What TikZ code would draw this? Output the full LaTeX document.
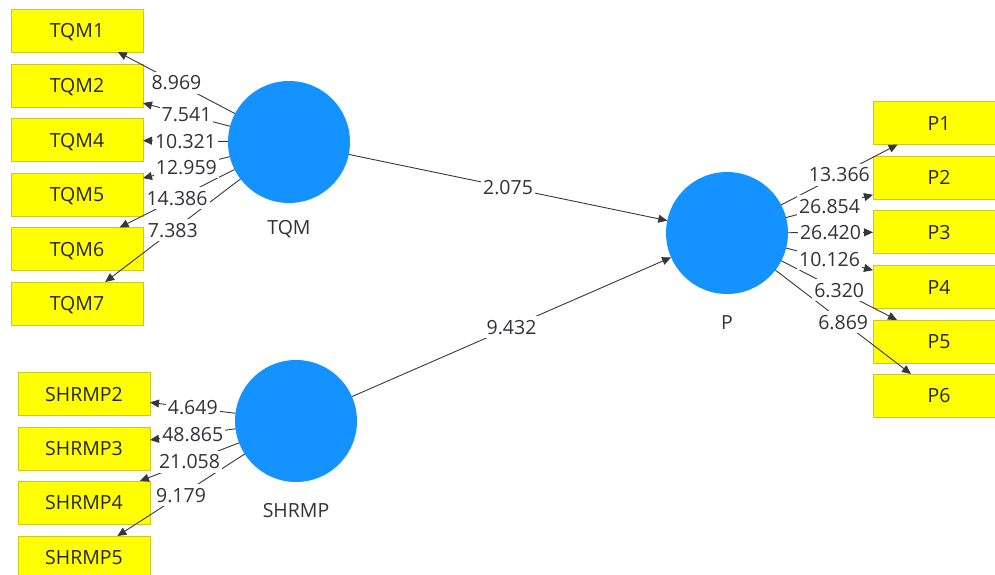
\documentclass[tikz,border=0pt]{standalone}
\usepackage{fontspec}
\setmainfont{Open Sans}
\usetikzlibrary{arrows.meta}
\definecolor{lvblue}{RGB}{20,146,255}
\definecolor{mvyellow}{RGB}{255,255,0}
\definecolor{mvborder}{RGB}{200,200,40}
\definecolor{edgegray}{RGB}{55,55,55}
\definecolor{txtgray}{RGB}{50,50,60}
\begin{document}
\begin{tikzpicture}[x=1pt,y=-1pt,
  latent/.style={circle,fill=lvblue,minimum size=122pt,inner sep=0pt,outer sep=0pt},
  manifest/.style={rectangle,fill=mvyellow,draw=mvborder,line width=0.6pt,minimum width=132pt,minimum height=43pt,inner sep=0pt,outer sep=0pt,text height=14pt,text depth=0pt,font=\fontsize{19.5}{22}\selectfont,text=black!85},
  lvlabel/.style={font=\fontsize{19.5}{22}\selectfont,text=txtgray},
  edge/.style={draw=edgegray,line width=0.9pt,-{Triangle[length=9pt,width=8pt]}},
  coef/.style={fill=white,inner xsep=2pt,inner ysep=4pt,text height=14pt,text depth=0pt,font=\fontsize{19.5}{22}\selectfont,text=txtgray}]
\useasboundingbox (0,0) rectangle (995,575);
% latent variables
\node[latent] (TQM) at (289,142) {};
\node[latent] (SHRMP) at (296,421) {};
\node[latent] (P) at (727,233) {};
\node[lvlabel] (TQMl) at (289,229) {TQM};
\node[lvlabel] (SHRMPl) at (296,511) {SHRMP};
\node[lvlabel] (Pl) at (727,323) {P};
% indicators
\node[manifest] (TQM1) at (77,30.5) {TQM1};
\node[manifest] (TQM2) at (77,85.5) {TQM2};
\node[manifest] (TQM4) at (77,140) {TQM4};
\node[manifest] (TQM5) at (77,194.5) {TQM5};
\node[manifest] (TQM6) at (77,249) {TQM6};
\node[manifest] (TQM7) at (77,303.5) {TQM7};
\node[manifest] (SHRMP2) at (84,394) {SHRMP2};
\node[manifest] (SHRMP3) at (84,448.5) {SHRMP3};
\node[manifest] (SHRMP4) at (84,502.5) {SHRMP4};
\node[manifest] (SHRMP5) at (84,557.5) {SHRMP5};
\node[manifest] (P1) at (939,123) {P1};
\node[manifest] (P2) at (939,177.5) {P2};
\node[manifest] (P3) at (939,232) {P3};
\node[manifest] (P4) at (939,287) {P4};
\node[manifest] (P5) at (939,341.5) {P5};
\node[manifest] (P6) at (939,395.5) {P6};
% connectors
\foreach \a/\b in {TQM/TQM1,TQM/TQM2,TQM/TQM4,TQM/TQM5,TQM/TQM6,TQM/TQM7,
  SHRMP/SHRMP2,SHRMP/SHRMP3,SHRMP/SHRMP4,SHRMP/SHRMP5,
  P/P1,P/P2,P/P3,P/P4,P/P5,P/P6,TQM/P,SHRMP/P}
  \draw[edge] (\a) -- (\b);
% coefficients
\foreach \a/\b/\v in {TQM/TQM1/8.969,TQM/TQM2/7.541,TQM/TQM4/10.321,TQM/TQM5/12.959,TQM/TQM6/14.386,TQM/TQM7/7.383,
  SHRMP/SHRMP2/4.649,SHRMP/SHRMP3/48.865,SHRMP/SHRMP4/21.058,SHRMP/SHRMP5/9.179,
  P/P1/13.366,P/P2/26.854,P/P3/26.420,P/P4/10.126,P/P5/6.320,P/P6/6.869,TQM/P/2.075,SHRMP/P/9.432}
  \path (\a) -- (\b) node[coef,midway] {\v};
\end{tikzpicture}
\end{document}
